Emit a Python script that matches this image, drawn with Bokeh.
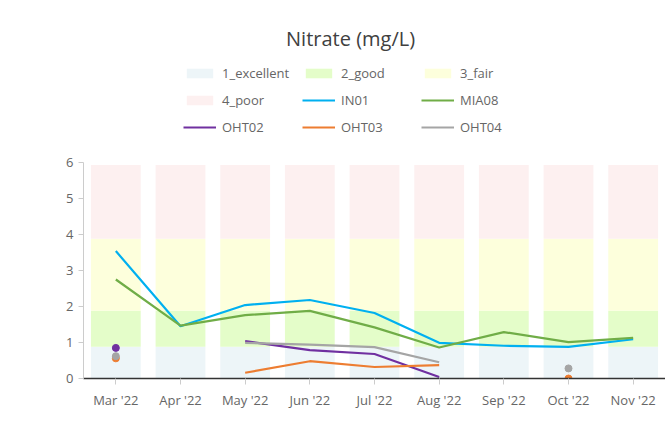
from bokeh.plotting import figure
from bokeh.models import (ColumnDataSource, Legend, LegendItem, Label, FixedTicker, Range1d)
from bokeh.embed import file_html
from bokeh.resources import INLINE
import math

nan = float("nan")

months = ["Mar '22", "Apr '22", "May '22", "Jun '22", "Jul '22", "Aug '22", "Sep '22", "Oct '22", "Nov '22"]

# background quality bands (stacked heights)
band_excellent = [0.88, 0.88, 0.88, 0.88, 0.88, 0.88, 0.88, 0.88, 0.88]
band_good = [1.0, 1.0, 1.0, 1.0, 1.0, 1.0, 1.0, 1.0, 1.0]
band_fair = [2.0, 2.0, 2.0, 2.0, 2.0, 2.0, 2.0, 2.0, 2.0]
band_poor = [2.05, 2.05, 2.05, 2.05, 2.05, 2.05, 2.05, 2.05, 2.05]

IN01 = [3.54, 1.45, 2.04, 2.18, 1.82, 0.99, 0.91, 0.88, 1.09]
MIA08 = [2.75, 1.47, 1.76, 1.88, 1.42, 0.86, 1.29, 1.01, 1.13]
OHT02 = [0.85, nan, 1.04, 0.79, 0.68, 0.04, nan, nan, nan]
OHT03 = [0.56, nan, 0.16, 0.48, 0.32, 0.37, nan, 0.0, nan]
OHT04 = [0.62, nan, 0.99, 0.94, 0.87, 0.45, nan, 0.28, nan]

y_ticks = [0, 1, 2, 3, 4, 5, 6]

FONT = "Open Sans"
TXT = "#666666"

# frame spans to the top of the canvas; the y axis itself is bounded to 0..6
p = figure(x_range=months, y_range=Range1d(0, 10.5), width=665, height=430,
           output_backend="svg", toolbar_location=None, title=None,
           min_border_left=83, min_border_right=0, min_border_top=0, min_border_bottom=52)
p.outline_line_color = None
p.xgrid.visible = False
p.ygrid.visible = False

# stacked bands
bands = [("1_excellent", band_excellent, "#edf5f8"),
         ("2_good", band_good, "#e4fdc9"),
         ("3_fair", band_fair, "#fdffdc"),
         ("4_poor", band_poor, "#fdf0f0")]
bottoms = [0.0] * len(months)
items = []
for name, vals, col in bands:
    tops = [b + v for b, v in zip(bottoms, vals)]
    src = ColumnDataSource(dict(x=months, bottom=bottoms, top=tops))
    r = p.vbar(x="x", bottom="bottom", top="top", width=0.77, source=src,
               fill_color=col, line_color=None)
    items.append(LegendItem(label=name, renderers=[r]))
    bottoms = tops

series = [("IN01", IN01, "#00b0f0"), ("MIA08", MIA08, "#70ad47"),
          ("OHT02", OHT02, "#7030a0"), ("OHT03", OHT03, "#ed7d31"),
          ("OHT04", OHT04, "#a5a5a5")]
for name, vals, col in series:
    src = ColumnDataSource(dict(x=months, y=vals))
    r = p.line(x="x", y="y", source=src, line_color=col, line_width=2.2)
    items.append(LegendItem(label=name, renderers=[r]))
    # isolated points (no neighbours) drawn as dots
    iso_x, iso_y = [], []
    for i, v in enumerate(vals):
        if math.isnan(v):
            continue
        left = vals[i - 1] if i > 0 else nan
        right = vals[i + 1] if i < len(vals) - 1 else nan
        if math.isnan(left) and math.isnan(right):
            iso_x.append(months[i])
            iso_y.append(v)
    if iso_x:
        p.scatter(x=iso_x, y=iso_y, size=7, fill_color=col, line_color=col)

legend = Legend(items=items, orientation="horizontal", ncols=3,
                location=(100, 241), padding=0, margin=0, spacing=7,
                glyph_width=33, glyph_height=12, label_width=73, label_height=20,
                label_standoff=6, label_text_font=FONT, label_text_font_size="13px",
                label_text_color=TXT, border_line_color=None, background_fill_alpha=0)
p.add_layout(legend, "center")

title = Label(x=4.13, y=9.45, text="Nitrate (mg/L)",
              text_font=FONT, text_font_size="20px", text_color="#404040",
              text_align="center", text_baseline="middle")
p.add_layout(title)

# axes
p.yaxis.ticker = FixedTicker(ticks=y_ticks)
p.yaxis.bounds = (0, 6)
p.yaxis.axis_line_color = "#cccccc"
p.yaxis.major_tick_line_color = "#cccccc"
p.yaxis.major_tick_out = 5
p.yaxis.major_tick_in = 0
p.yaxis.minor_tick_line_color = None
p.yaxis.major_label_standoff = 5
p.yaxis.major_label_text_font = FONT
p.yaxis.major_label_text_font_size = "13px"
p.yaxis.major_label_text_color = TXT

p.xaxis.axis_line_color = "#333333"
p.xaxis.axis_line_width = 1.3
p.xaxis.major_tick_line_color = "#cccccc"
p.xaxis.major_tick_out = 6
p.xaxis.major_tick_in = 0
p.xaxis.major_label_standoff = 6
p.xaxis.major_label_text_font = FONT
p.xaxis.major_label_text_font_size = "13px"
p.xaxis.major_label_text_color = TXT

open("out.html", "w").write(file_html(p, INLINE))
